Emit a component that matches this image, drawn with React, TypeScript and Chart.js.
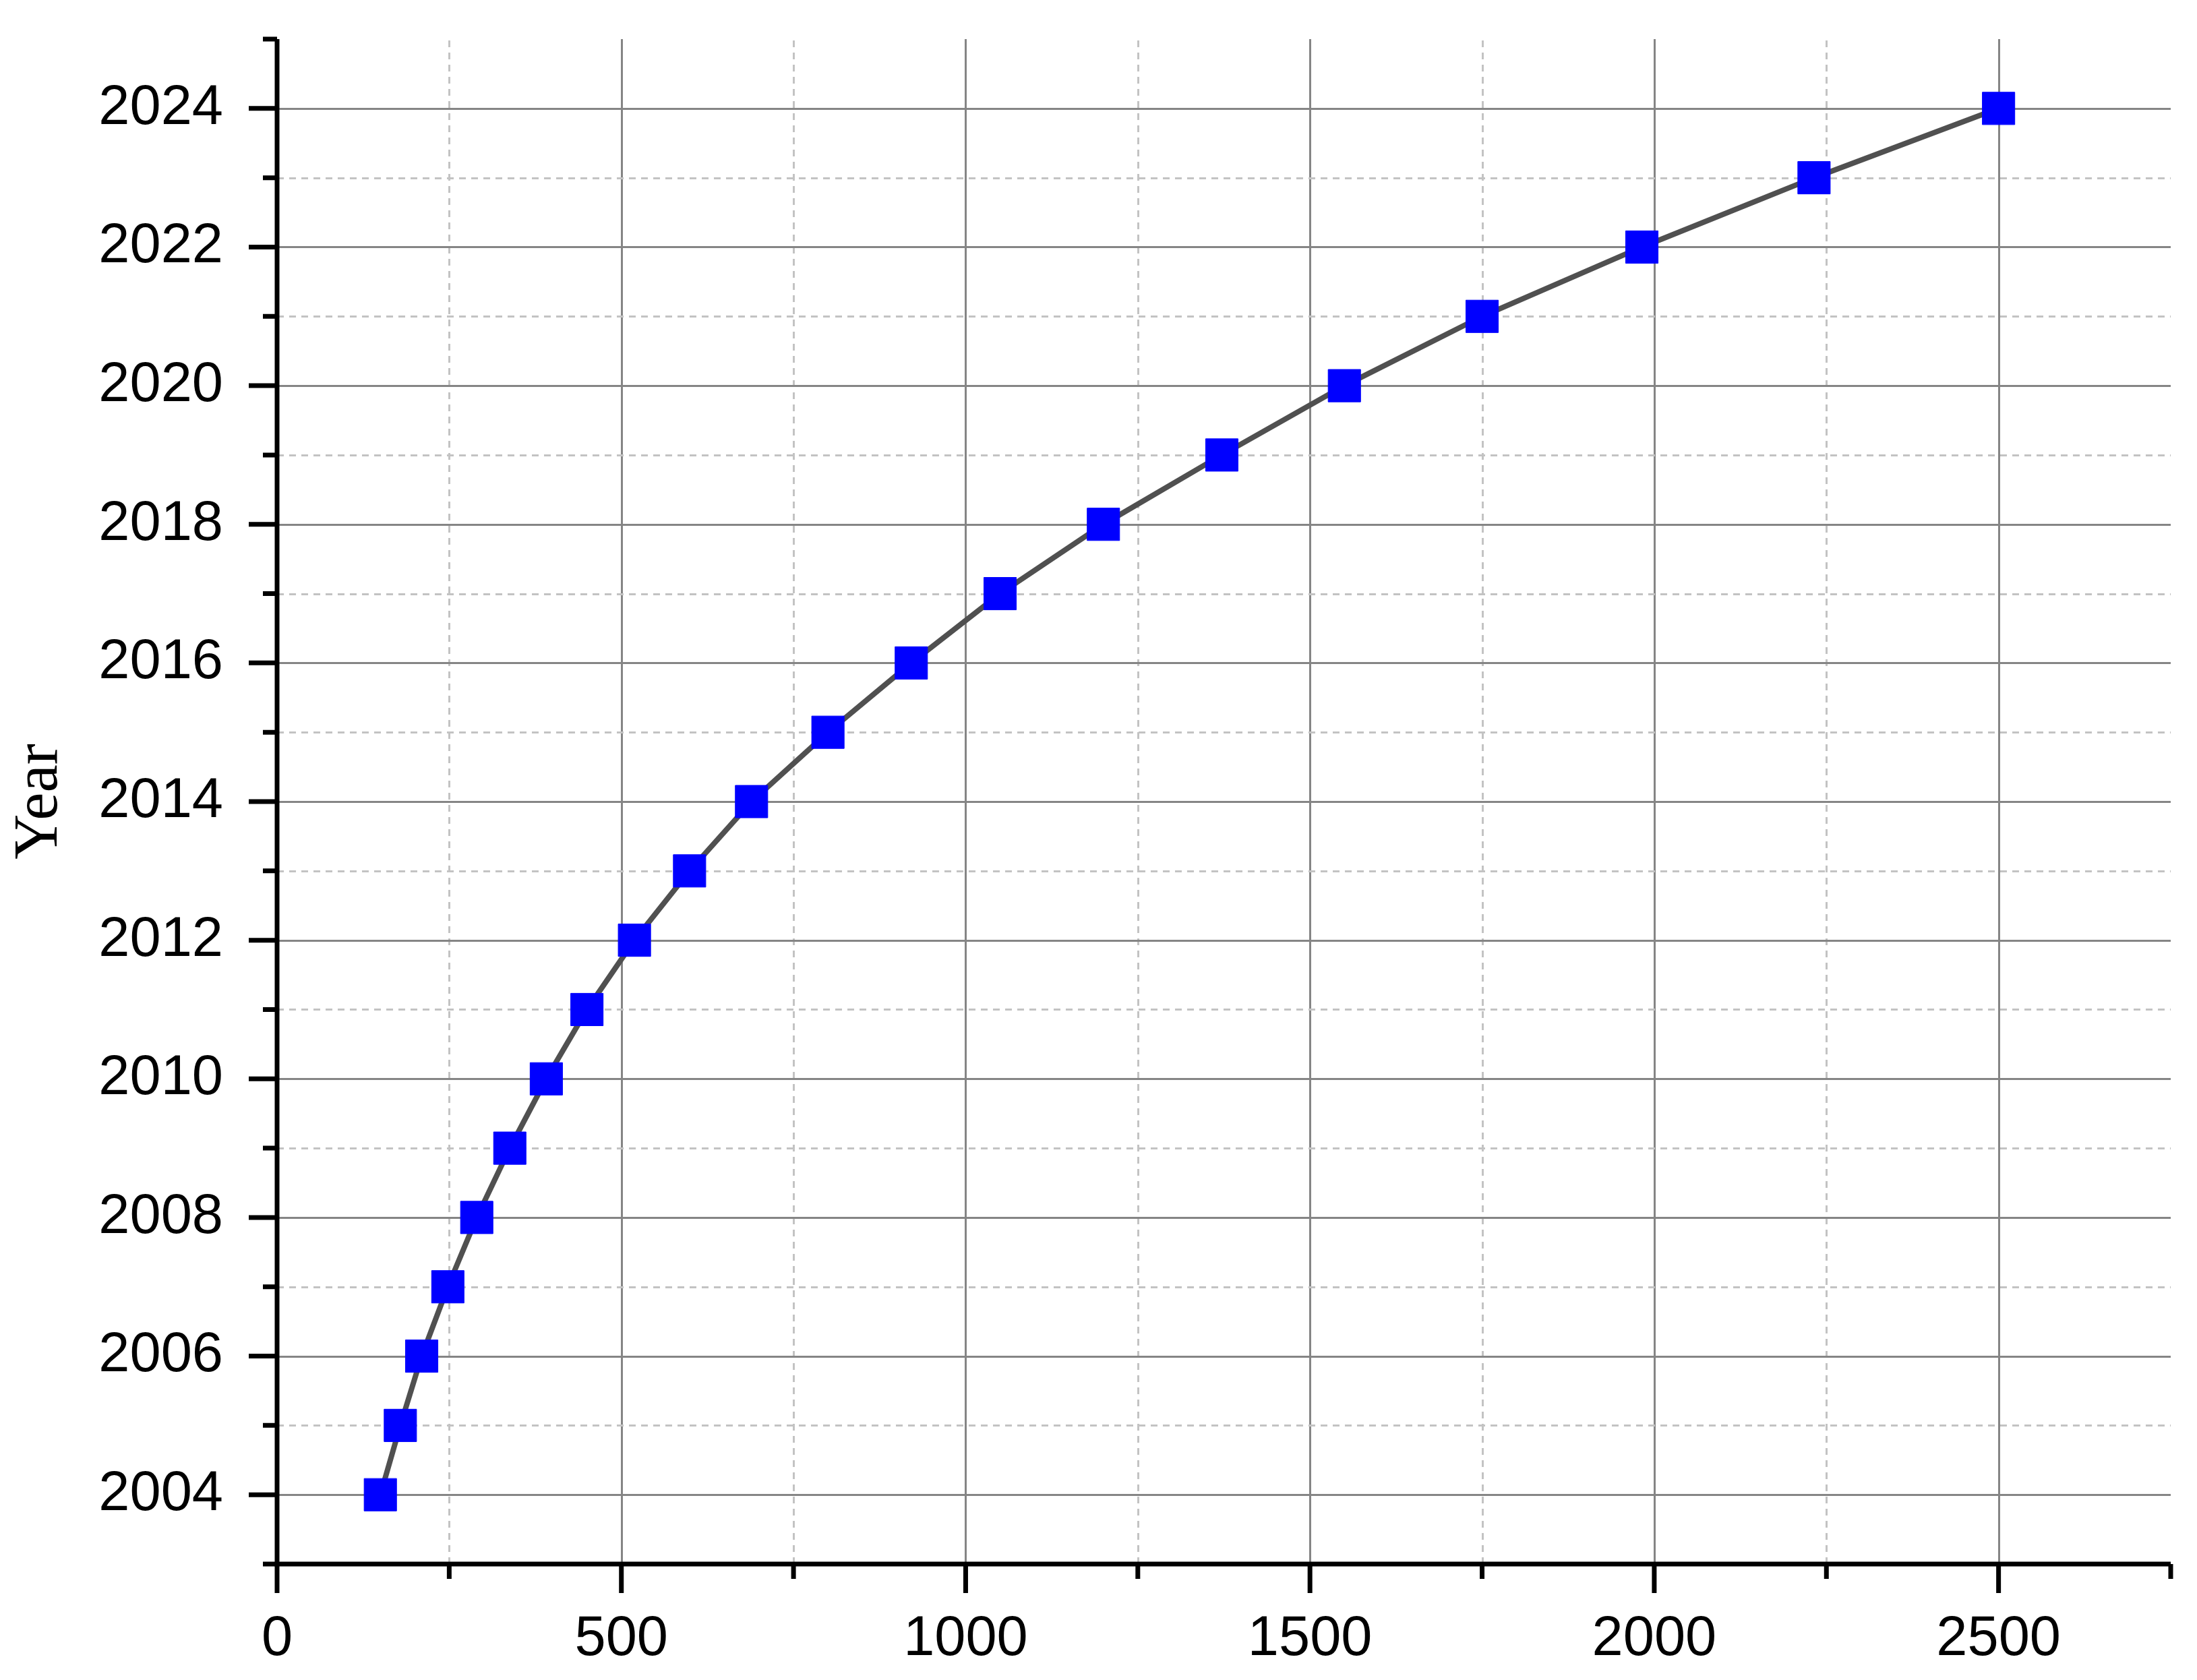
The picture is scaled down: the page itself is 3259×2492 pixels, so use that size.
import React, { useEffect, useRef } from "react";
import { Chart, registerables } from "chart.js";

Chart.register(...registerables);

// ---- data ----
const years: number[] = [
  2004, 2005, 2006, 2007, 2008, 2009, 2010, 2011, 2012, 2013, 2014,
  2015, 2016, 2017, 2018, 2019, 2020, 2021, 2022, 2023, 2024,
];
const values: number[] = [
  150, 179, 210, 248, 290, 338, 391, 450, 519, 599, 689,
  800, 921, 1050, 1200, 1372, 1550, 1750, 1982, 2232, 2500,
];

const X_MIN = 0;
const X_MAX = 2750;
const X_STEP = 250; // minor
const X_MAJOR = 500;
const Y_MIN = 2003;
const Y_MAX = 2025;
const Y_STEP = 1; // minor
const Y_MAJOR = 2;
const Y_TITLE = "Year";

const W = 3259;
const H = 2492;

const originPlugin = {
  id: "originAxes",
  beforeDatasetsDraw(chart: any) {
    const { ctx, chartArea, scales } = chart;
    const { left, right, top, bottom } = chartArea;
    const x = scales.x;
    const y = scales.y;
    ctx.save();
    ctx.lineCap = "butt";
    // vertical grid lines
    x.ticks.forEach((t: any) => {
      const v = t.value;
      if (v <= X_MIN || v >= X_MAX) return;
      const px = Math.round(x.getPixelForValue(v)) + 0.5;
      const major = v % X_MAJOR === 0;
      ctx.beginPath();
      ctx.strokeStyle = major ? "#858585" : "#c3c3c3";
      ctx.lineWidth = 3;
      ctx.setLineDash(major ? [] : [10, 8]);
      ctx.moveTo(px, bottom);
      ctx.lineTo(px, top);
      ctx.stroke();
    });
    // horizontal grid lines
    y.ticks.forEach((t: any) => {
      const v = t.value;
      if (v <= Y_MIN || v >= Y_MAX) return;
      const py = Math.round(y.getPixelForValue(v)) + 0.5;
      const major = (v - Y_MIN) % Y_MAJOR === 1;
      ctx.beginPath();
      ctx.strokeStyle = major ? "#858585" : "#c3c3c3";
      ctx.lineWidth = 3;
      ctx.setLineDash(major ? [] : [10, 8]);
      ctx.moveTo(left, py);
      ctx.lineTo(right, py);
      ctx.stroke();
    });
    ctx.setLineDash([]);
    ctx.strokeStyle = "#000000";
    ctx.lineWidth = 7;
    // axis lines
    ctx.beginPath();
    ctx.moveTo(left - 3.5, bottom);
    ctx.lineTo(right, bottom);
    ctx.moveTo(left, bottom + 3.5);
    ctx.lineTo(left, top);
    ctx.stroke();
    // tick marks
    ctx.beginPath();
    x.ticks.forEach((t: any) => {
      const v = t.value;
      const px = x.getPixelForValue(v);
      const len = v % X_MAJOR === 0 ? 43 : 22;
      ctx.moveTo(px, bottom);
      ctx.lineTo(px, bottom + len);
    });
    y.ticks.forEach((t: any) => {
      const v = t.value;
      const py = y.getPixelForValue(v);
      const len = (v - Y_MIN) % Y_MAJOR === 1 ? 42 : 21;
      ctx.moveTo(left, py);
      ctx.lineTo(left - len, py);
    });
    ctx.stroke();
    ctx.restore();
  },
};

export default function App() {
  const ref = useRef<HTMLCanvasElement | null>(null);

  useEffect(() => {
    if (!ref.current) return;
    const chart = new Chart(ref.current, {
      type: "scatter",
      data: {
        datasets: [
          {
            data: years.map((yr, i) => ({ x: values[i], y: yr })),
            showLine: true,
            borderColor: "#505050",
            borderWidth: 8,
            tension: 0,
            pointStyle: "rect",
            pointRadius: 34,
            pointHoverRadius: 34,
            pointBackgroundColor: "#0000ff",
            pointBorderColor: "#0000ff",
            pointBorderWidth: 1,
            clip: false as any,
          },
        ],
      },
      options: {
        responsive: false,
        maintainAspectRatio: false,
        animation: false,
        events: [],
        layout: { padding: { left: 0, top: 58, right: W - 3220, bottom: 0 } },
        plugins: {
          legend: { display: false },
          tooltip: { enabled: false },
        },
        scales: {
          x: {
            type: "linear",
            min: X_MIN,
            max: X_MAX,
            grid: { display: false, drawTicks: true, tickLength: 62 },
            border: { display: false },
            ticks: {
              stepSize: X_STEP,
              autoSkip: false,
              maxRotation: 0,
              minRotation: 0,
              padding: 0,
              color: "#000000",
              font: { family: "'Liberation Sans', Arial, sans-serif", size: 83 },
              callback: (v: any) => (Number(v) % X_MAJOR === 0 ? String(v) : ""),
            },
            afterFit: (s: any) => {
              s.height = H - 2320;
            },
          },
          y: {
            type: "linear",
            min: Y_MIN,
            max: Y_MAX,
            grid: { display: false, drawTicks: true, tickLength: 80 },
            border: { display: false },
            title: {
              display: true,
              text: Y_TITLE,
              color: "#000000",
              font: { family: "'Liberation Serif', 'Times New Roman', serif", size: 93 },
              padding: { top: 4, bottom: 0 },
            },
            ticks: {
              stepSize: Y_STEP,
              autoSkip: false,
              padding: 0,
              color: "#000000",
              font: { family: "'Liberation Sans', Arial, sans-serif", size: 83 },
              callback: (v: any) =>
                (Number(v) - Y_MIN) % Y_MAJOR === 1 ? String(v) : "",
            },
            afterFit: (s: any) => {
              s.width = 411;
            },
          },
        },
      } as any,
      plugins: [originPlugin],
    });
    return () => chart.destroy();
  }, []);

  return (
    <div style={{ position: "absolute", left: 0, top: 0, width: W, height: H, background: "#ffffff" }}>
      <canvas ref={ref} width={W} height={H} style={{ display: "block", width: W, height: H }} />
    </div>
  );
}
